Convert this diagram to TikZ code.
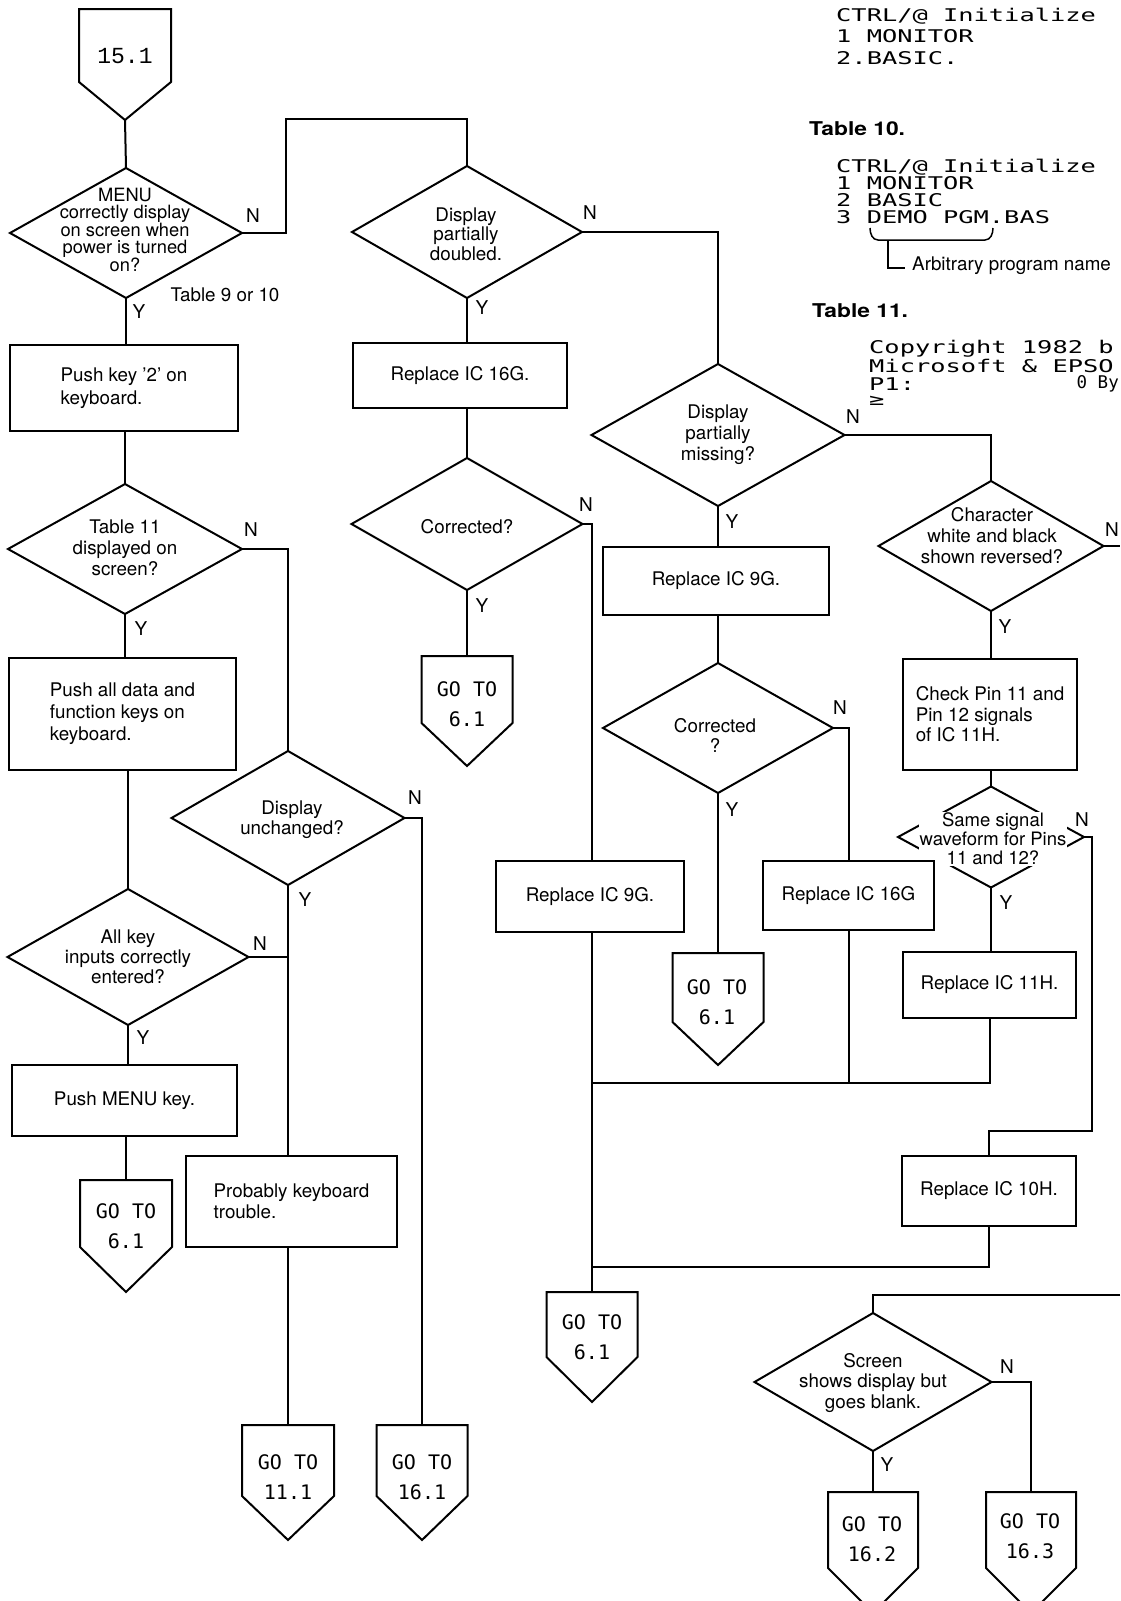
\documentclass[tikz,border=0pt]{standalone}
\usepackage{fontspec}
\setmainfont{TeX Gyre Heros}
\newfontfamily\gofont{DejaVu Sans Mono}
\newfontfamily\entryfont{Liberation Mono}
\newfontfamily\dotfont[FakeStretch=1.45]{DejaVu Sans Mono}
\newfontfamily\tabfont[FakeStretch=1.2]{TeX Gyre Heros}
\usetikzlibrary{shapes.geometric}
\tikzset{
  ln/.style={line width=2pt, line join=miter},
  dia/.style={shape=diamond, draw, line width=2pt, inner sep=0pt, outer sep=0pt},
  box/.style={shape=rectangle, draw, line width=2pt, inner sep=0pt, outer sep=0pt, align=left, font=\fontsize{18.8}{22}\selectfont},
  dtxt/.style={inner sep=0pt, align=center, font=\fontsize{18.8}{20.5}\selectfont},
  yn/.style={inner sep=0pt, font=\fontsize{19}{20}\selectfont},
  gotxt/.style={inner sep=0pt, align=center, font=\gofont\fontsize{20}{30}\selectfont},
  dot/.style={inner sep=0pt, anchor=west, font=\dotfont\fontsize{17.5}{17}\selectfont},
  tabhead/.style={inner sep=0pt, anchor=west, font=\tabfont\bfseries\fontsize{19}{20}\selectfont},
}
% pentagon: name, cx, top, side length, tip length, half width
\newcommand\pent[6]{%
  \coordinate (#1) at (#2,#3);
  \coordinate (#1tip) at (#2,#3+#4+#5);
  \draw[ln] (#2-#6,#3) -- (#2+#6,#3) -- (#2+#6,#3+#4) -- (#2,#3+#4+#5) -- (#2-#6,#3+#4) -- cycle;
}
\begin{document}
\begin{tikzpicture}[x=1pt,y=-1pt]
\useasboundingbox (0,0) rectangle (1120,1601);
\clip (0,0) rectangle (1120,1601);

% ---------- entry / exit pentagons
\pent{g0}{125}{9}{73}{38}{46}
\node[inner sep=0pt, font=\entryfont\fontsize{23}{24}\selectfont] (g0t) at (125,56) {15.1};
\pent{gA}{126}{1180}{67}{45}{46}
\node[gotxt] (gAt) at (126,1226.5) {GO TO\\6.1};
\pent{gB}{467}{656}{67}{43}{45.5}
\node[gotxt] (gBt) at (467,704.5) {GO TO\\6.1};
\pent{gC}{718}{953}{69}{43}{45.5}
\node[gotxt] (gCt) at (717,1002.5) {GO TO\\6.1};
\pent{gD}{592}{1292}{65}{45}{45.5}
\node[gotxt] (gDt) at (592,1337.5) {GO TO\\6.1};
\pent{gE}{288}{1425}{71}{44}{46}
\node[gotxt] (gEt) at (288,1477) {GO TO\\11.1};
\pent{gF}{422}{1425}{71}{44}{45.5}
\node[gotxt] (gFt) at (422,1477) {GO TO\\16.1};
\pent{gG}{873}{1492}{76}{45}{45}
\node[gotxt] (gGt) at (872,1539) {GO TO\\16.2};
\pent{gH}{1031}{1492}{76}{45}{45}
\node[gotxt] (gHt) at (1030,1536.5) {GO TO\\16.3};

% ---------- decisions
\node[dia, minimum width=232pt, minimum height=130pt] (d1) at (126,233) {};
\node[dtxt, font=\fontsize{18.3}{16.6}\selectfont] (d1t) at (125,230) {MENU\\correctly display\\on screen when\\power is turned\\on?};
\node[dia, minimum width=230pt, minimum height=132pt] (d2) at (467,232) {};
\node[dtxt, font=\fontsize{18.8}{19.5}\selectfont] (d2t) at (466,234) {Display\\partially\\doubled.};
\node[dia, minimum width=231pt, minimum height=132pt] (d3) at (467,524) {};
\node[dtxt] (d3t) at (467,527) {Corrected?};
\node[dia, minimum width=253pt, minimum height=142pt] (d4) at (718,435) {};
\node[dtxt, font=\fontsize{18.8}{21}\selectfont] (d4t) at (718,435) {Display\\partially\\missing?};
\node[dia, minimum width=230pt, minimum height=130pt] (d5) at (718,728) {};
\node[dtxt, font=\fontsize{18.8}{20}\selectfont] (d5t) at (715,735) {Corrected\\?};
\node[dia, minimum width=225pt, minimum height=130pt] (d6) at (991,546) {};
\node[dtxt, font=\fontsize{18.8}{21}\selectfont] (d6t) at (992,536) {Character\\white and black\\shown reversed?};
\node[dia, minimum width=186pt, minimum height=101pt] (d7) at (991,837) {};
\node[dtxt, fill=white, inner sep=1pt, font=\fontsize{18.5}{19}\selectfont] (d7t) at (993,839) {Same signal\\waveform for Pins\\11 and 12?};
\node[dia, minimum width=234pt, minimum height=130pt] (d8) at (125,549) {};
\node[dtxt, font=\fontsize{18.8}{21}\selectfont] (d8t) at (125,548) {Table 11\\displayed on\\screen?};
\node[dia, minimum width=233pt, minimum height=134pt] (d9) at (288,818) {};
\node[dtxt, font=\fontsize{18.8}{20}\selectfont] (d9t) at (292,820) {Display\\unchanged?};
\node[dia, minimum width=241pt, minimum height=136pt] (d10) at (128,957) {};
\node[dtxt, font=\fontsize{18.8}{20}\selectfont] (d10t) at (128,957) {All key\\inputs correctly\\entered?};
\node[dia, minimum width=237pt, minimum height=138pt] (d11) at (873,1382) {};
\node[dtxt, font=\fontsize{18.8}{20.5}\selectfont] (d11t) at (873,1383) {Screen\\shows display but\\goes blank.};

% ---------- process boxes
\node[box, minimum width=228pt, minimum height=86pt, font=\fontsize{18.8}{23}\selectfont] (b1) at (124,388) {Push key ’2’ on\\keyboard.};
\node[box, minimum width=227pt, minimum height=112pt] (b2) at (122.5,714) {Push all data and\\function keys on\\keyboard.};
\node[box, minimum width=225pt, minimum height=71pt] (b3) at (124.5,1100.5) {Push MENU key.};
\node[box, minimum width=211pt, minimum height=91pt, font=\fontsize{18.8}{21}\selectfont] (b4) at (291.5,1201.5) {Probably keyboard\\trouble.};
\node[box, minimum width=214pt, minimum height=65pt] (b5) at (460,375.5) {Replace IC 16G.};
\node[box, minimum width=226pt, minimum height=68pt] (b6) at (716,581) {Replace IC 9G.};
\node[box, minimum width=188pt, minimum height=71pt] (b7) at (590,896.5) {Replace IC 9G.};
\node[box, minimum width=171pt, minimum height=69pt] (b8) at (848.5,895.5) {Replace IC 16G};
\node[box, minimum width=174pt, minimum height=111pt, font=\fontsize{18.8}{20.5}\selectfont] (b9) at (990,714.5) {Check Pin 11 and\\Pin 12 signals\\of IC 11H.};
\node[box, minimum width=173pt, minimum height=66pt] (b10) at (989.5,985) {Replace IC 11H.};
\node[box, minimum width=174pt, minimum height=70pt] (b11) at (989,1191) {Replace IC 10H.};

% ---------- junctions / free ends
\coordinate (j1) at (592,1083);
\coordinate (j2) at (592,1267);
\coordinate (eR1) at (1120,546);
\coordinate (eR2) at (1120,1295);

% ---------- connectors
\draw[ln] (g0tip) -- (d1.north);
\draw[ln] (d1.south) -- (d1.south |- b1.north);
\draw[ln] (d1.east) -- ++(44,0) -- ++(0,-114) -| (d2.north);
\draw[ln] (d2.south) -- (d2.south |- b5.north);
\draw[ln] (d2.south |- b5.south) -- (d3.north);
\draw[ln] (d3.south) -- (gB);
\draw[ln] (d3.east) -| (b7.north -| gD);
\draw[ln] (b7.south -| gD) -- (gD);
\draw[ln] (d2.east) -| (d4.north);
\draw[ln] (d4.south) -- (d4.south |- b6.north);
\draw[ln] (d5.north |- b6.south) -- (d5.north);
\draw[ln] (d5.south) -- (gC);
\draw[ln] (d5.east) -| (b8.north);
\draw[ln] (d4.east) -| (d6.north);
\draw[ln] (d6.east) -- (eR1);
\draw[ln] (d6.south) -- (d6.south |- b9.north);
\draw[ln] (d7.north |- b9.south) -- (d7.north);
\draw[ln] (d7.south) -- (d7.south |- b10.north);
\draw[ln] (d7.east) -- ++(8,0) -- ++(0,294) -| (b11.north);
\draw[ln] (b10.south) |- (j1);
\draw[ln] (b8.south) -- (b8.south |- j1);
\draw[ln] (b11.south) |- (j2);
\draw[ln] (eR2) -| (d11.north);
\draw[ln] (d11.south) -- (gG);
\draw[ln] (d11.east) -| (gH);
\draw[ln] (d8.north |- b1.south) -- (d8.north);
\draw[ln] (d8.east) -| (d9.north);
\draw[ln] (d8.south) -- (d8.south |- b2.north);
\draw[ln] (d10.north |- b2.south) -- (d10.north);
\draw[ln] (d9.south) -- (d9.south |- b4.north);
\draw[ln] (d10.east) -- (d10.east -| d9.south);
\draw[ln] (d9.east) -| (gF);
\draw[ln] (d10.south) -- (d10.south |- b3.north);
\draw[ln] (gA |- b3.south) -- (gA);
\draw[ln] (gE |- b4.south) -- (gE);

% ---------- Y / N labels
\node[yn] (n1) at (253,216) {N};   \node[yn] (y1) at (139,312) {Y};
\node[inner sep=0pt, font=\fontsize{18.8}{19}\selectfont] (t910) at (225,295) {Table 9 or 10};
\node[yn] (n2) at (590,213) {N};   \node[yn] (y2) at (482,308) {Y};
\node[yn] (n3) at (586,505) {N};   \node[yn] (y3) at (482,606) {Y};
\node[yn] (n4) at (853,417) {N};   \node[yn] (y4) at (732,522) {Y};
\node[yn] (n5) at (840,708) {N};   \node[yn] (y5) at (732,810) {Y};
\node[yn] (n6) at (1112,530) {N};  \node[yn] (y6) at (1005,627) {Y};
\node[yn] (n7) at (1082,820) {N};  \node[yn] (y7) at (1006,903) {Y};
\node[yn] (n8) at (251,530) {N};   \node[yn] (y8) at (141,629) {Y};
\node[yn] (n9) at (415,798) {N};   \node[yn] (y9) at (305,900) {Y};
\node[yn] (n10) at (260,944) {N};  \node[yn] (y10) at (143,1038) {Y};
\node[yn] (n11) at (1007,1367) {N}; \node[yn] (y11) at (887,1465) {Y};

% ---------- screen tables
\node[dot] (s9a) at (836,16) {CTRL/@ Initialize};
\node[dot] (s9b) at (836,36) {1 MONITOR};
\node[dot] (s9c) at (836,58) {2.BASIC.};

\node[tabhead] (h10) at (809,129) {Table 10.};
\node[dot] (s10a) at (836,167) {CTRL/@ Initialize};
\node[dot] (s10b) at (836,183) {1 MONITOR};
\node[dot] (s10c) at (836,200) {2 BASIC};
\node[dot] (s10d) at (836,217) {3 DEMO PGM.BAS};
\draw[line width=1.5pt] (870,228) to[out=-90,in=180] (878,240) -- (985,240) to[out=0,in=-90] (993,228);
\draw[line width=1.5pt] (888,240) -- (888,268) -- (905,268);
\node[inner sep=0pt, anchor=west, font=\fontsize{18.8}{19}\selectfont] (arb) at (912,266) {Arbitrary program name};

\node[tabhead] (h11) at (812,311) {Table 11.};
\node[dot] (s11a) at (869,349) {Copyright 1982 b};
\node[dot] (s11b) at (869,366) {Microsoft \& EPSO};
\node[dot] (s11c) at (869,384) {P1:};
\node[inner sep=0pt, anchor=east, font=\gofont\fontsize{17.5}{17}\selectfont] (s11d) at (1119,384) {0 By};
\node[dot] (s11e) at (869,401) {≥};
\end{tikzpicture}
\end{document}
